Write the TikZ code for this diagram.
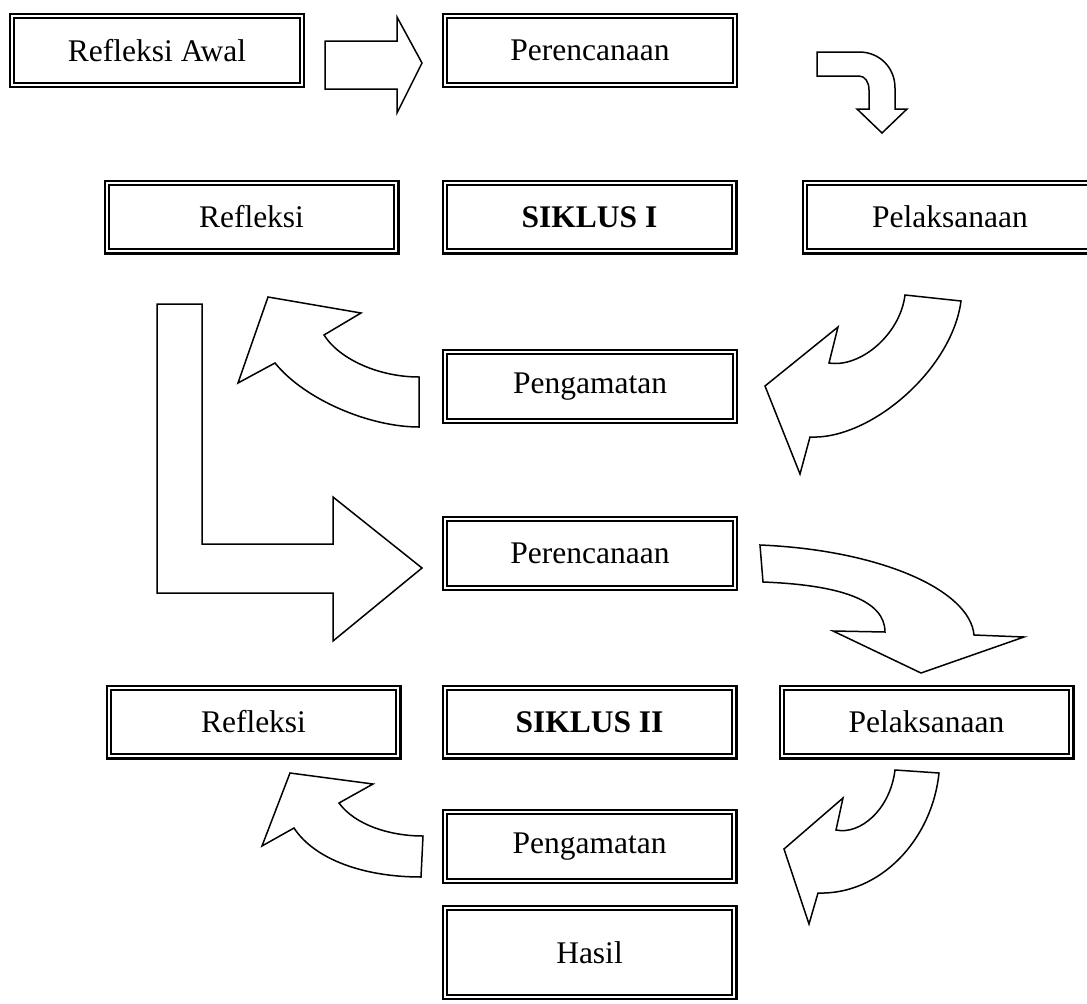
\documentclass[tikz,border=0pt]{standalone}
\usepackage{fontspec}
\setmainfont{Liberation Serif}
\begin{document}
\begin{tikzpicture}[x=1pt,y=-1pt,
  box/.style={draw, line width=2.2pt, double distance=2pt, double=white, fill=white,
    minimum width=289.6pt, minimum height=68.6pt, inner sep=0pt,
    font=\fontsize{31.5}{36}\selectfont},
  blockarrow/.style={draw, fill=white, line width=1.5pt, line join=miter}]
\useasboundingbox (0,0) rectangle (1087,1004);
% boxes
\node[box] (ra) at (157,50.5) {Refleksi Awal};
\node[box] (p1) at (590,50.5) {Perencanaan};
\node[box] (r1) at (251.5,217) {Refleksi};
\node[box] (s1) at (589.5,217) {\bfseries SIKLUS I};
\node[box] (l1) at (950,217) {Pelaksanaan};
\node[box] (g1) at (590,386.5) {Pengamatan};
\node[box] (p2) at (590,553.5) {Perencanaan};
\node[box] (r2) at (253.5,722) {Refleksi};
\node[box] (s2) at (589.5,722) {\bfseries SIKLUS II};
\node[box] (l2) at (926.5,722) {Pelaksanaan};
\node[box] (g2) at (589.5,846.5) {Pengamatan};
\node[box, minimum height=88.6pt] (h) at (589.5,952.5) {Hasil};
% arrows
\draw[blockarrow] (325,41) -- (397,41) -- (397,17) -- (422,63) -- (397,113) -- (397,89) -- (325,89) -- cycle;
\draw[blockarrow] (817,52) -- (859,52) .. controls (880,52) and (895,68) .. (895,88) -- (895,109) -- (907,109) -- (882,133) -- (857,109) -- (869,109) -- (869,90) .. controls (869,82) and (865,76) .. (859,76) -- (817,76) -- cycle;
\draw[blockarrow] (419,377) -- (419,427) .. controls (370,427) and (305,400) .. (275,363) -- (238,383) -- (268,297) -- (361,313) -- (324,335) .. controls (340,360) and (380,377) .. (419,377) -- cycle;
\draw[blockarrow] (905,295) -- (961,301) .. controls (952,370) and (870,440) .. (810,437) -- (800,474) -- (765,386) -- (838,327) -- (829,363) .. controls (860,368) and (900,335) .. (905,295) -- cycle;
\draw[blockarrow] (157,304) -- (202,304) -- (202,544) -- (333,544) -- (333,497) -- (422,568) -- (333,641) -- (333,593) -- (157,593) -- cycle;
\draw[blockarrow] (760,545) .. controls (880,550) and (970,590) .. (974,635) -- (1024,637) -- (921,673) -- (833,631) -- (885,632) .. controls (885,600) and (840,585) .. (763,582) -- cycle;
\draw[blockarrow] (290,773) -- (373,784) -- (339,803) .. controls (355,825) and (390,836) .. (423,836) -- (421,877) .. controls (365,877) and (315,860) .. (294,828) -- (262,846) -- cycle;
\draw[blockarrow] (895,770) -- (939,773) .. controls (932,840) and (880,895) .. (818,893) -- (809,924) -- (784,849) -- (843,798) -- (836,830) .. controls (860,835) and (890,810) .. (895,770) -- cycle;
\end{tikzpicture}
\end{document}
